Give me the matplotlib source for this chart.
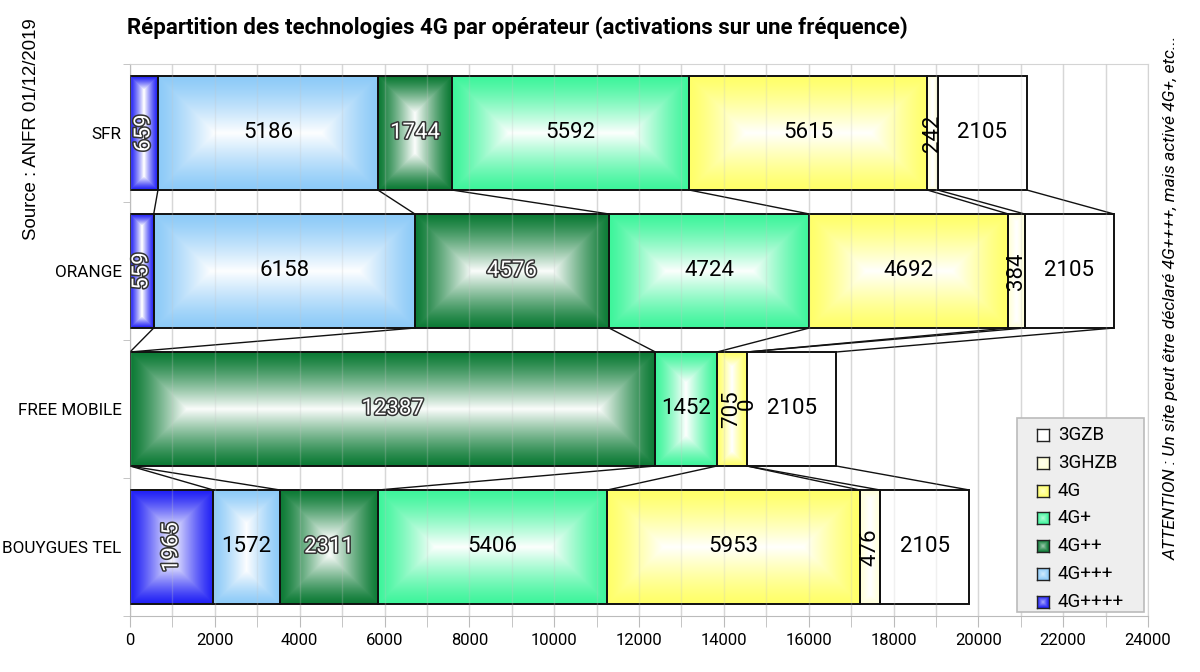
import numpy as np
import matplotlib
matplotlib.use("Agg")
import matplotlib.pyplot as plt
import matplotlib.patheffects as pe
from matplotlib.patches import Rectangle

operators = ["SFR", "ORANGE", "FREE MOBILE", "BOUYGUES TEL"]
series = ["4G++++", "4G+++", "4G++", "4G+", "4G", "3GHZB", "3GZB"]
v_4g4 = [659, 559, 0, 1965]
v_4g3 = [5186, 6158, 0, 1572]
v_4g2 = [1744, 4576, 12387, 2311]
v_4g1 = [5592, 4724, 1452, 5406]
v_4g = [5615, 4692, 705, 5953]
v_3ghzb = [242, 384, 0, 476]
v_3gzb = [2105, 2105, 2105, 2105]
values = [v_4g4, v_4g3, v_4g2, v_4g1, v_4g, v_3ghzb, v_3gzb]
colors = ["#1f1ff5", "#8ccaf8", "#0b7a34", "#3df59b", "#ffff68", "#ffffd8", "#ffffff"]
xticks = list(range(0, 24001, 2000))
title = "Répartition des technologies 4G par opérateur (activations sur une fréquence)"
source = "Source : ANFR 01/12/2019"
note = "ATTENTION : Un site peut être déclaré 4G++++, mais activé 4G+, etc..."

W, H = 1200, 672
fig = plt.figure(figsize=(W / 100, H / 100), dpi=100)
fig.patch.set_facecolor("white")
ax_l, ax_r, ax_t, ax_b = 130, 1148, 64, 616
ax = fig.add_axes([ax_l / W, 1 - ax_b / H, (ax_r - ax_l) / W, (ax_b - ax_t) / H])
xmax = 24000
ax.set_xlim(0, xmax)
ax.set_ylim(len(operators) - 0.5, -0.5)

bh = 0.826
px_per_x = (ax_r - ax_l) / xmax
px_per_y = (ax_b - ax_t) / len(operators)

dark_series = {0, 2}
rotated = {(0, 0), (1, 0), (3, 0), (0, 5), (1, 5), (2, 4), (2, 5), (3, 5)}


def to_rgb(c):
    return np.array(matplotlib.colors.to_rgb(c))


def bevel_img(wp, hp, color, strength=0.97):
    nx = max(int(round(wp)), 2)
    ny = max(int(round(hp)), 2)
    xs = np.arange(nx) + 0.5
    ys = np.arange(ny) + 0.5
    dx = np.minimum(xs, nx - xs)
    dy = np.minimum(ys, ny - ys)
    d = np.minimum(dy[:, None], dx[None, :])
    dn = d / d.max()
    f = (dn ** 1.25) * strength
    base = to_rgb(color)
    return base[None, None, :] + (1 - base[None, None, :]) * f[..., None]


def bevel(x0, w, yc, color):
    img = bevel_img(w * px_per_x, bh * px_per_y, color)
    ax.imshow(img, extent=(x0, x0 + w, yc + bh / 2, yc - bh / 2), aspect="auto",
              interpolation="bilinear", zorder=2)


cums = []
for i, op in enumerate(operators):
    left = 0
    bounds = []
    for s in range(len(series)):
        v = values[s][i]
        if v > 0:
            bevel(left, v, i, colors[s])
            ax.add_patch(Rectangle((left, i - bh / 2), v, bh, fill=False,
                                   edgecolor="#111111", lw=1.4, zorder=3))
        cx = left + v / 2
        rot = 90 if (i, s) in rotated else 0
        show = v > 0 or (i, s) in rotated
        ty = i - 0.04 if v == 0 else i
        if show:
            if s in dark_series:
                ax.text(cx, ty, str(v), ha="center", va="center", rotation=rot,
                        fontsize=16, color="white", family="Roboto", zorder=5,
                        path_effects=[pe.withStroke(linewidth=2.2, foreground="#333333")])
            else:
                ax.text(cx, ty, str(v), ha="center", va="center", rotation=rot,
                        fontsize=16, color="black", family="Roboto", zorder=5)
        left += v
        bounds.append(left)
    cums.append(bounds)

# series lines
for i in range(len(operators) - 1):
    for k in range(len(series)):
        ax.plot([cums[i][k], cums[i + 1][k]], [i + bh / 2, i + 1 - bh / 2],
                color="#111111", lw=1.0, zorder=3, solid_capstyle="butt")

# grid
for gx in range(0, xmax + 1, 1000):
    ax.axvline(gx, color="#dedede", lw=1, zorder=0)
    ax.axvline(gx, color="#c4c4c4", lw=1, alpha=0.25, zorder=4)

ax.set_xticks(xticks)
ax.set_xticks(range(0, xmax + 1, 1000), minor=True)
ax.set_xticklabels([str(t) for t in xticks], fontsize=12, family="Roboto")
ax.set_yticks(range(len(operators)))
ax.set_yticklabels(operators, fontsize=12.3, family="Roboto")
ax.set_yticks(np.arange(-0.5, len(operators), 1), minor=True)
ax.tick_params(axis="y", which="major", length=0, pad=6)
ax.tick_params(axis="y", which="minor", length=5, color="#bbbbbb", direction="out")
ax.tick_params(axis="x", which="both", length=8, color="#bbbbbb", direction="out", pad=4)
for sp in ["top", "right"]:
    ax.spines[sp].set_color("#d4d4d4")
ax.spines["bottom"].set_color("#bbbbbb")
ax.spines["left"].set_color("#bbbbbb")

# legend (drawn in figure pixels)
lg_l, lg_r, lg_t, lg_b = 1017, 1144, 418, 612
fig.patches.append(Rectangle((lg_l / W, 1 - lg_b / H), (lg_r - lg_l) / W, (lg_b - lg_t) / H,
                             transform=fig.transFigure, facecolor="#eeeeee",
                             edgecolor="#bbbbbb", lw=1.2, zorder=6))
row0, pitch, sq = 435, 27.8, 12
for r, s in enumerate(range(len(series) - 1, -1, -1)):
    yc = row0 + r * pitch
    img = bevel_img(24, 24, colors[s], strength=0.6)
    x0 = 1037
    axh = fig.add_axes([x0 / W, 1 - (yc + sq / 2) / H, sq / W, sq / H], zorder=7)
    axh.imshow(img, extent=(0, 1, 0, 1), aspect="auto", interpolation="bilinear")
    axh.set_xticks([]); axh.set_yticks([])
    for sp in axh.spines.values():
        sp.set_color("#222222"); sp.set_linewidth(1)
    fig.text(1058 / W, 1 - yc / H, series[s], ha="left", va="center",
             fontsize=13.5, family="Roboto", zorder=8)

fig.text(127 / W, 1 - 28 / H, title, ha="left", va="center", fontsize=16,
         fontweight="bold", family="Roboto")
fig.text(32 / W, 1 - 129 / H, source, ha="center", va="center", rotation=90,
         fontsize=13.4, family="Liberation Sans")
fig.text(1171 / W, 1 - 298 / H, note, ha="center", va="center", rotation=90,
         fontsize=12.6, style="italic", family="Roboto")

fig.savefig("out.png", dpi=100, facecolor="white")
